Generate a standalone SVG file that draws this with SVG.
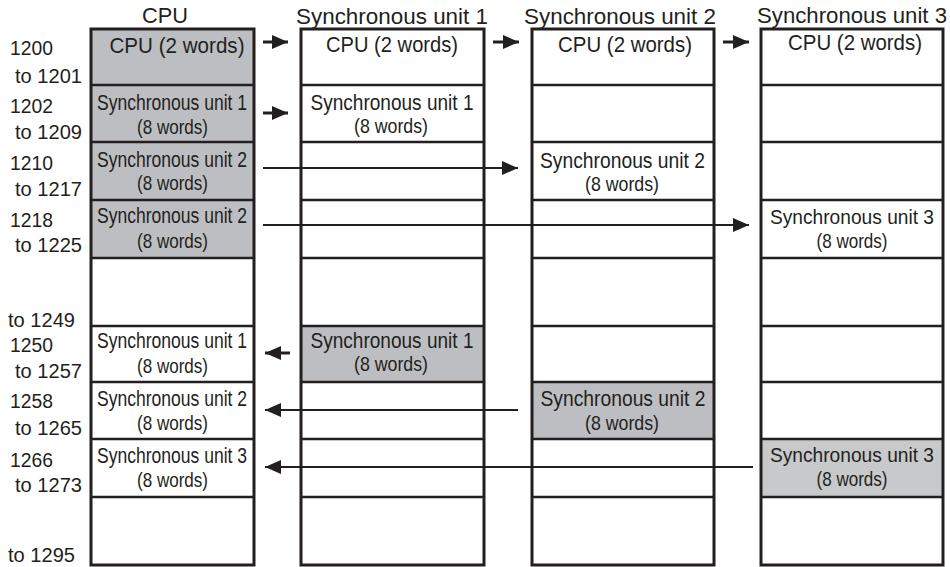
<svg xmlns="http://www.w3.org/2000/svg" width="950" height="567" viewBox="0 0 950 567">
<style>
text{font-family:"Liberation Sans",Arial,sans-serif;fill:#231f20}
.h{font-size:22.5px;text-anchor:middle}
.c{font-size:22px;text-anchor:middle}
.c4{font-size:20.5px;text-anchor:middle}
.s{font-size:21px;text-anchor:middle}
.l{font-size:20.5px}
.box{fill:none;stroke:#231f20;stroke-width:3}
.div{stroke:#231f20;stroke-width:2.6}
.g{fill:#bdbec1}
.g2{fill:#c8c9cb}
.a3{stroke:#231f20;stroke-width:3;fill:none}
.a2{stroke:#231f20;stroke-width:2;fill:none}
</style>
<defs>
<marker id="ah" markerUnits="userSpaceOnUse" markerWidth="18" markerHeight="16" viewBox="0 0 18 16" refX="16" refY="8" orient="auto">
<path d="M0,1 L16,8 L0,15 Z" fill="#231f20"/>
</marker>
</defs>
<rect width="950" height="567" fill="#fff"/>

<g id="labels">
<text class="l" x="10" y="55" textLength="43" lengthAdjust="spacingAndGlyphs">1200</text>
<text class="l" x="15" y="83" textLength="67" lengthAdjust="spacingAndGlyphs">to 1201</text>
<text class="l" x="10" y="113" textLength="43" lengthAdjust="spacingAndGlyphs">1202</text>
<text class="l" x="15" y="139" textLength="67" lengthAdjust="spacingAndGlyphs">to 1209</text>
<text class="l" x="10" y="170" textLength="43" lengthAdjust="spacingAndGlyphs">1210</text>
<text class="l" x="15" y="196" textLength="67" lengthAdjust="spacingAndGlyphs">to 1217</text>
<text class="l" x="10" y="227" textLength="43" lengthAdjust="spacingAndGlyphs">1218</text>
<text class="l" x="15" y="252" textLength="67" lengthAdjust="spacingAndGlyphs">to 1225</text>
<text class="l" x="8" y="327" textLength="67" lengthAdjust="spacingAndGlyphs">to 1249</text>
<text class="l" x="10" y="352" textLength="43" lengthAdjust="spacingAndGlyphs">1250</text>
<text class="l" x="15" y="378" textLength="67" lengthAdjust="spacingAndGlyphs">to 1257</text>
<text class="l" x="10" y="408" textLength="43" lengthAdjust="spacingAndGlyphs">1258</text>
<text class="l" x="15" y="435" textLength="67" lengthAdjust="spacingAndGlyphs">to 1265</text>
<text class="l" x="10" y="467" textLength="43" lengthAdjust="spacingAndGlyphs">1266</text>
<text class="l" x="15" y="492" textLength="67" lengthAdjust="spacingAndGlyphs">to 1273</text>
<text class="l" x="8" y="562" textLength="67" lengthAdjust="spacingAndGlyphs">to 1295</text>
</g>

<g id="col-cpu">
<text class="h" x="165" y="23" textLength="46" lengthAdjust="spacingAndGlyphs">CPU</text>
<rect class="g" x="91" y="29" width="163" height="229"/>
<line class="div" x1="91" y1="85" x2="254" y2="85"/>
<line class="div" x1="91" y1="142" x2="254" y2="142"/>
<line class="div" x1="91" y1="200" x2="254" y2="200"/>
<line class="div" x1="91" y1="258" x2="254" y2="258"/>
<line class="div" x1="91" y1="326" x2="254" y2="326"/>
<line class="div" x1="91" y1="382" x2="254" y2="382"/>
<line class="div" x1="91" y1="439" x2="254" y2="439"/>
<line class="div" x1="91" y1="497" x2="254" y2="497"/>
<rect class="box" x="91" y="29" width="163" height="536"/>
<text class="c" x="177" y="53" textLength="135" lengthAdjust="spacingAndGlyphs">CPU (2 words)</text>
<text class="c" x="172" y="110" textLength="150" lengthAdjust="spacingAndGlyphs">Synchronous unit 1</text>
<text class="s" x="172.5" y="134" textLength="71" lengthAdjust="spacingAndGlyphs">(8 words)</text>
<text class="c" x="172" y="167" textLength="150" lengthAdjust="spacingAndGlyphs">Synchronous unit 2</text>
<text class="s" x="172.5" y="190" textLength="71" lengthAdjust="spacingAndGlyphs">(8 words)</text>
<text class="c" x="172" y="223" textLength="150" lengthAdjust="spacingAndGlyphs">Synchronous unit 2</text>
<text class="s" x="172.5" y="248" textLength="71" lengthAdjust="spacingAndGlyphs">(8 words)</text>
<text class="c" x="172" y="348" textLength="150" lengthAdjust="spacingAndGlyphs">Synchronous unit 1</text>
<text class="s" x="172.5" y="373" textLength="71" lengthAdjust="spacingAndGlyphs">(8 words)</text>
<text class="c" x="172" y="406" textLength="150" lengthAdjust="spacingAndGlyphs">Synchronous unit 2</text>
<text class="s" x="172.5" y="430" textLength="71" lengthAdjust="spacingAndGlyphs">(8 words)</text>
<text class="c" x="172" y="463" textLength="150" lengthAdjust="spacingAndGlyphs">Synchronous unit 3</text>
<text class="s" x="172.5" y="487" textLength="71" lengthAdjust="spacingAndGlyphs">(8 words)</text>
</g>

<g id="col-sync1">
<text class="h" x="392" y="24" textLength="192" lengthAdjust="spacingAndGlyphs">Synchronous unit 1</text>
<rect class="g" x="301" y="326" width="183" height="56"/>
<line class="div" x1="301" y1="85" x2="484" y2="85"/>
<line class="div" x1="301" y1="142" x2="484" y2="142"/>
<line class="div" x1="301" y1="200" x2="484" y2="200"/>
<line class="div" x1="301" y1="258" x2="484" y2="258"/>
<line class="div" x1="301" y1="326" x2="484" y2="326"/>
<line class="div" x1="301" y1="382" x2="484" y2="382"/>
<line class="div" x1="301" y1="439" x2="484" y2="439"/>
<line class="div" x1="301" y1="497" x2="484" y2="497"/>
<rect class="box" x="301" y="29" width="183" height="536"/>
<text class="c" x="392" y="52" textLength="132" lengthAdjust="spacingAndGlyphs">CPU (2 words)</text>
<text class="c" x="392" y="110" textLength="163" lengthAdjust="spacingAndGlyphs">Synchronous unit 1</text>
<text class="s" x="391" y="133" textLength="74" lengthAdjust="spacingAndGlyphs">(8 words)</text>
<text class="c" x="392" y="348" textLength="163" lengthAdjust="spacingAndGlyphs">Synchronous unit 1</text>
<text class="s" x="391" y="371" textLength="74" lengthAdjust="spacingAndGlyphs">(8 words)</text>
</g>

<g id="col-sync2">
<text class="h" x="620" y="24" textLength="192" lengthAdjust="spacingAndGlyphs">Synchronous unit 2</text>
<rect class="g" x="532" y="382" width="182" height="57"/>
<line class="div" x1="532" y1="85" x2="714" y2="85"/>
<line class="div" x1="532" y1="142" x2="714" y2="142"/>
<line class="div" x1="532" y1="200" x2="714" y2="200"/>
<line class="div" x1="532" y1="258" x2="714" y2="258"/>
<line class="div" x1="532" y1="326" x2="714" y2="326"/>
<line class="div" x1="532" y1="382" x2="714" y2="382"/>
<line class="div" x1="532" y1="439" x2="714" y2="439"/>
<line class="div" x1="532" y1="497" x2="714" y2="497"/>
<rect class="box" x="532" y="29" width="182" height="536"/>
<text class="c" x="625" y="52" textLength="134" lengthAdjust="spacingAndGlyphs">CPU (2 words)</text>
<text class="c" x="622.5" y="168" textLength="165" lengthAdjust="spacingAndGlyphs">Synchronous unit 2</text>
<text class="s" x="622" y="191" textLength="74" lengthAdjust="spacingAndGlyphs">(8 words)</text>
<text class="c" x="623" y="406" textLength="165" lengthAdjust="spacingAndGlyphs">Synchronous unit 2</text>
<text class="s" x="622" y="430" textLength="74" lengthAdjust="spacingAndGlyphs">(8 words)</text>
</g>

<g id="col-sync3">
<text class="h" x="852" y="23" textLength="190" lengthAdjust="spacingAndGlyphs">Synchronous unit 3</text>
<rect class="g2" x="761" y="439" width="182" height="58"/>
<line class="div" x1="761" y1="85" x2="943" y2="85"/>
<line class="div" x1="761" y1="142" x2="943" y2="142"/>
<line class="div" x1="761" y1="200" x2="943" y2="200"/>
<line class="div" x1="761" y1="258" x2="943" y2="258"/>
<line class="div" x1="761" y1="326" x2="943" y2="326"/>
<line class="div" x1="761" y1="382" x2="943" y2="382"/>
<line class="div" x1="761" y1="439" x2="943" y2="439"/>
<line class="div" x1="761" y1="497" x2="943" y2="497"/>
<rect class="box" x="761" y="29" width="182" height="536"/>
<text class="c" x="855" y="50" textLength="134" lengthAdjust="spacingAndGlyphs">CPU (2 words)</text>
<text class="c4" x="852" y="224" textLength="164" lengthAdjust="spacingAndGlyphs">Synchronous unit 3</text>
<text class="s" x="852" y="248" textLength="71" lengthAdjust="spacingAndGlyphs">(8 words)</text>
<text class="c4" x="852" y="462" textLength="164" lengthAdjust="spacingAndGlyphs">Synchronous unit 3</text>
<text class="s" x="852" y="486" textLength="71" lengthAdjust="spacingAndGlyphs">(8 words)</text>
</g>

<g id="connectors">
<line class="a3" x1="263" y1="42" x2="288" y2="42" marker-end="url(#ah)"/>
<line class="a3" x1="493" y1="42" x2="519" y2="42" marker-end="url(#ah)"/>
<line class="a3" x1="723" y1="42" x2="749" y2="42" marker-end="url(#ah)"/>
<line class="a3" x1="263" y1="113" x2="288" y2="113" marker-end="url(#ah)"/>
<line class="a2" x1="263" y1="168" x2="518" y2="168" marker-end="url(#ah)"/>
<line class="a2" x1="263" y1="225" x2="749" y2="225" marker-end="url(#ah)"/>
<line class="a3" x1="290" y1="353" x2="265" y2="353" marker-end="url(#ah)"/>
<line class="a2" x1="518" y1="410" x2="265" y2="410" marker-end="url(#ah)"/>
<line class="a2" x1="753" y1="467" x2="265" y2="467" marker-end="url(#ah)"/>
</g>
</svg>
